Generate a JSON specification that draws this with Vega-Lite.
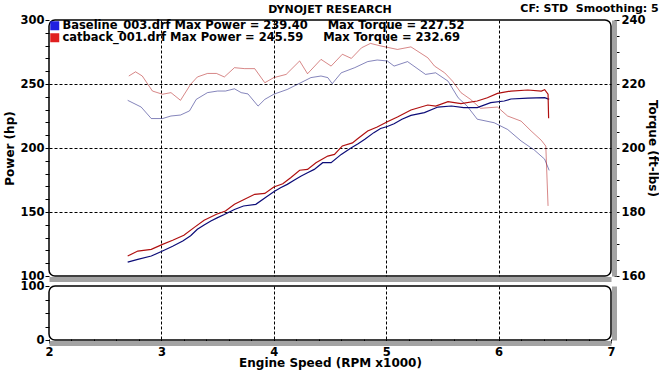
{
  "$schema": "https://vega.github.io/schema/vega-lite/v6.json",
  "background": "white",
  "padding": {"left": 3, "top": 3, "right": 1, "bottom": 0},
  "title": {"text": "CF: STD\u00a0 Smoothing: 5", "anchor": "end", "frame": "bounds", "fontSize": 11, "fontWeight": "bold", "font": "DejaVu Sans", "color": "black", "offset": 0, "dy": 11},
  "config": {
    "font": "DejaVu Sans",
    "view": {"stroke": "black", "strokeWidth": 1.5, "cornerRadius": 6},
    "axis": {"labelFont": "DejaVu Sans", "labelFontWeight": "bold", "labelFontSize": 11.5, "labelColor": "black", "labelOverlap": false, "titleFont": "DejaVu Sans", "titleFontWeight": "bold", "titleFontSize": 12, "titleColor": "black", "tickColor": "black", "gridColor": "black", "gridDash": [3, 2], "gridWidth": 1},
    "legend": {"labelFont": "DejaVu Sans", "labelFontWeight": "bold", "labelFontSize": 11.5, "labelColor": "black", "labelLimit": 600, "labelOffset": 2, "rowPadding": -2, "padding": 0, "symbolType": "square", "symbolSize": 81, "symbolStrokeWidth": 0, "symbolOpacity": 1},
    "title": {"font": "DejaVu Sans", "fontWeight": "bold", "color": "black"}
  },
  "datasets": {
    "runs": [
      {"label": "Baseline_003.drf Max Power = 239.40\u00a0\u00a0\u00a0\u00a0\u00a0Max Torque = 227.52"},
      {"label": "catback_001.drf Max Power = 245.59\u00a0\u00a0\u00a0\u00a0\u00a0Max Torque = 232.69"}
    ],
    "power": [
      {"run": "Baseline_003.drf", "rpm": 2.70, "hp": 110.9},
      {"run": "Baseline_003.drf", "rpm": 2.79, "hp": 113.0},
      {"run": "Baseline_003.drf", "rpm": 2.91, "hp": 115.6},
      {"run": "Baseline_003.drf", "rpm": 3.01, "hp": 119.5},
      {"run": "Baseline_003.drf", "rpm": 3.10, "hp": 123.2},
      {"run": "Baseline_003.drf", "rpm": 3.19, "hp": 127.3},
      {"run": "Baseline_003.drf", "rpm": 3.26, "hp": 131.5},
      {"run": "Baseline_003.drf", "rpm": 3.32, "hp": 136.5},
      {"run": "Baseline_003.drf", "rpm": 3.38, "hp": 139.8},
      {"run": "Baseline_003.drf", "rpm": 3.44, "hp": 143.0},
      {"run": "Baseline_003.drf", "rpm": 3.50, "hp": 145.6},
      {"run": "Baseline_003.drf", "rpm": 3.56, "hp": 148.0},
      {"run": "Baseline_003.drf", "rpm": 3.65, "hp": 152.0},
      {"run": "Baseline_003.drf", "rpm": 3.73, "hp": 154.7},
      {"run": "Baseline_003.drf", "rpm": 3.84, "hp": 156.0},
      {"run": "Baseline_003.drf", "rpm": 3.92, "hp": 161.0},
      {"run": "Baseline_003.drf", "rpm": 4.00, "hp": 165.9},
      {"run": "Baseline_003.drf", "rpm": 4.06, "hp": 169.0},
      {"run": "Baseline_003.drf", "rpm": 4.12, "hp": 171.6},
      {"run": "Baseline_003.drf", "rpm": 4.18, "hp": 174.8},
      {"run": "Baseline_003.drf", "rpm": 4.24, "hp": 178.0},
      {"run": "Baseline_003.drf", "rpm": 4.30, "hp": 180.7},
      {"run": "Baseline_003.drf", "rpm": 4.36, "hp": 183.3},
      {"run": "Baseline_003.drf", "rpm": 4.435, "hp": 188.5},
      {"run": "Baseline_003.drf", "rpm": 4.51, "hp": 188.5},
      {"run": "Baseline_003.drf", "rpm": 4.60, "hp": 195.0},
      {"run": "Baseline_003.drf", "rpm": 4.69, "hp": 200.2},
      {"run": "Baseline_003.drf", "rpm": 4.75, "hp": 203.4},
      {"run": "Baseline_003.drf", "rpm": 4.81, "hp": 206.8},
      {"run": "Baseline_003.drf", "rpm": 4.89, "hp": 212.0},
      {"run": "Baseline_003.drf", "rpm": 4.95, "hp": 215.2},
      {"run": "Baseline_003.drf", "rpm": 5.01, "hp": 216.8},
      {"run": "Baseline_003.drf", "rpm": 5.07, "hp": 219.0},
      {"run": "Baseline_003.drf", "rpm": 5.14, "hp": 222.5},
      {"run": "Baseline_003.drf", "rpm": 5.22, "hp": 225.5},
      {"run": "Baseline_003.drf", "rpm": 5.34, "hp": 227.6},
      {"run": "Baseline_003.drf", "rpm": 5.46, "hp": 232.0},
      {"run": "Baseline_003.drf", "rpm": 5.58, "hp": 232.8},
      {"run": "Baseline_003.drf", "rpm": 5.69, "hp": 231.5},
      {"run": "Baseline_003.drf", "rpm": 5.81, "hp": 231.5},
      {"run": "Baseline_003.drf", "rpm": 5.93, "hp": 235.4},
      {"run": "Baseline_003.drf", "rpm": 6.05, "hp": 236.7},
      {"run": "Baseline_003.drf", "rpm": 6.11, "hp": 238.3},
      {"run": "Baseline_003.drf", "rpm": 6.26, "hp": 239.0},
      {"run": "Baseline_003.drf", "rpm": 6.41, "hp": 239.4},
      {"run": "Baseline_003.drf", "rpm": 6.45, "hp": 238.0},
      {"run": "catback_001.drf", "rpm": 2.70, "hp": 115.6},
      {"run": "catback_001.drf", "rpm": 2.79, "hp": 119.5},
      {"run": "catback_001.drf", "rpm": 2.91, "hp": 120.8},
      {"run": "catback_001.drf", "rpm": 3.01, "hp": 124.7},
      {"run": "catback_001.drf", "rpm": 3.10, "hp": 127.9},
      {"run": "catback_001.drf", "rpm": 3.20, "hp": 131.8},
      {"run": "catback_001.drf", "rpm": 3.29, "hp": 137.8},
      {"run": "catback_001.drf", "rpm": 3.38, "hp": 143.5},
      {"run": "catback_001.drf", "rpm": 3.49, "hp": 148.2},
      {"run": "catback_001.drf", "rpm": 3.57, "hp": 150.8},
      {"run": "catback_001.drf", "rpm": 3.65, "hp": 156.0},
      {"run": "catback_001.drf", "rpm": 3.74, "hp": 159.9},
      {"run": "catback_001.drf", "rpm": 3.83, "hp": 163.8},
      {"run": "catback_001.drf", "rpm": 3.92, "hp": 164.5},
      {"run": "catback_001.drf", "rpm": 4.00, "hp": 169.5},
      {"run": "catback_001.drf", "rpm": 4.08, "hp": 172.1},
      {"run": "catback_001.drf", "rpm": 4.15, "hp": 176.8},
      {"run": "catback_001.drf", "rpm": 4.23, "hp": 182.6},
      {"run": "catback_001.drf", "rpm": 4.30, "hp": 183.3},
      {"run": "catback_001.drf", "rpm": 4.375, "hp": 188.5},
      {"run": "catback_001.drf", "rpm": 4.48, "hp": 193.7},
      {"run": "catback_001.drf", "rpm": 4.54, "hp": 195.0},
      {"run": "catback_001.drf", "rpm": 4.61, "hp": 201.6},
      {"run": "catback_001.drf", "rpm": 4.70, "hp": 204.0},
      {"run": "catback_001.drf", "rpm": 4.74, "hp": 206.8},
      {"run": "catback_001.drf", "rpm": 4.835, "hp": 213.3},
      {"run": "catback_001.drf", "rpm": 4.92, "hp": 216.4},
      {"run": "catback_001.drf", "rpm": 5.01, "hp": 220.5},
      {"run": "catback_001.drf", "rpm": 5.10, "hp": 224.2},
      {"run": "catback_001.drf", "rpm": 5.22, "hp": 229.7},
      {"run": "catback_001.drf", "rpm": 5.37, "hp": 233.6},
      {"run": "catback_001.drf", "rpm": 5.44, "hp": 232.8},
      {"run": "catback_001.drf", "rpm": 5.55, "hp": 236.2},
      {"run": "catback_001.drf", "rpm": 5.665, "hp": 234.6},
      {"run": "catback_001.drf", "rpm": 5.81, "hp": 236.7},
      {"run": "catback_001.drf", "rpm": 5.90, "hp": 239.3},
      {"run": "catback_001.drf", "rpm": 5.99, "hp": 242.7},
      {"run": "catback_001.drf", "rpm": 6.11, "hp": 244.5},
      {"run": "catback_001.drf", "rpm": 6.26, "hp": 245.3},
      {"run": "catback_001.drf", "rpm": 6.38, "hp": 244.5},
      {"run": "catback_001.drf", "rpm": 6.41, "hp": 245.59},
      {"run": "catback_001.drf", "rpm": 6.44, "hp": 242.0},
      {"run": "catback_001.drf", "rpm": 6.445, "hp": 223.2}
    ],
    "torque": [
      {"run": "Baseline_003.drf", "rpm": 2.70, "tq": 214.9},
      {"run": "Baseline_003.drf", "rpm": 2.82, "tq": 212.8},
      {"run": "Baseline_003.drf", "rpm": 2.91, "tq": 209.2},
      {"run": "Baseline_003.drf", "rpm": 3.01, "tq": 209.2},
      {"run": "Baseline_003.drf", "rpm": 3.085, "tq": 210.0},
      {"run": "Baseline_003.drf", "rpm": 3.17, "tq": 210.3},
      {"run": "Baseline_003.drf", "rpm": 3.25, "tq": 211.6},
      {"run": "Baseline_003.drf", "rpm": 3.31, "tq": 215.2},
      {"run": "Baseline_003.drf", "rpm": 3.41, "tq": 217.3},
      {"run": "Baseline_003.drf", "rpm": 3.50, "tq": 217.8},
      {"run": "Baseline_003.drf", "rpm": 3.57, "tq": 217.8},
      {"run": "Baseline_003.drf", "rpm": 3.65, "tq": 218.5},
      {"run": "Baseline_003.drf", "rpm": 3.71, "tq": 217.3},
      {"run": "Baseline_003.drf", "rpm": 3.77, "tq": 216.9},
      {"run": "Baseline_003.drf", "rpm": 3.86, "tq": 213.1},
      {"run": "Baseline_003.drf", "rpm": 3.92, "tq": 215.2},
      {"run": "Baseline_003.drf", "rpm": 4.00, "tq": 216.8},
      {"run": "Baseline_003.drf", "rpm": 4.12, "tq": 218.3},
      {"run": "Baseline_003.drf", "rpm": 4.24, "tq": 220.4},
      {"run": "Baseline_003.drf", "rpm": 4.33, "tq": 222.0},
      {"run": "Baseline_003.drf", "rpm": 4.42, "tq": 222.5},
      {"run": "Baseline_003.drf", "rpm": 4.48, "tq": 222.0},
      {"run": "Baseline_003.drf", "rpm": 4.52, "tq": 220.1},
      {"run": "Baseline_003.drf", "rpm": 4.60, "tq": 223.5},
      {"run": "Baseline_003.drf", "rpm": 4.72, "tq": 225.1},
      {"run": "Baseline_003.drf", "rpm": 4.835, "tq": 227.0},
      {"run": "Baseline_003.drf", "rpm": 4.92, "tq": 227.5},
      {"run": "Baseline_003.drf", "rpm": 5.01, "tq": 227.2},
      {"run": "Baseline_003.drf", "rpm": 5.07, "tq": 225.6},
      {"run": "Baseline_003.drf", "rpm": 5.19, "tq": 227.0},
      {"run": "Baseline_003.drf", "rpm": 5.35, "tq": 223.0},
      {"run": "Baseline_003.drf", "rpm": 5.44, "tq": 223.5},
      {"run": "Baseline_003.drf", "rpm": 5.55, "tq": 220.9},
      {"run": "Baseline_003.drf", "rpm": 5.64, "tq": 215.7},
      {"run": "Baseline_003.drf", "rpm": 5.72, "tq": 213.1},
      {"run": "Baseline_003.drf", "rpm": 5.81, "tq": 209.0},
      {"run": "Baseline_003.drf", "rpm": 5.96, "tq": 207.9},
      {"run": "Baseline_003.drf", "rpm": 6.08, "tq": 205.8},
      {"run": "Baseline_003.drf", "rpm": 6.20, "tq": 202.2},
      {"run": "Baseline_003.drf", "rpm": 6.32, "tq": 199.3},
      {"run": "Baseline_003.drf", "rpm": 6.41, "tq": 196.5},
      {"run": "Baseline_003.drf", "rpm": 6.45, "tq": 193.0},
      {"run": "catback_001.drf", "rpm": 2.71, "tq": 222.5},
      {"run": "catback_001.drf", "rpm": 2.77, "tq": 223.8},
      {"run": "catback_001.drf", "rpm": 2.83, "tq": 222.5},
      {"run": "catback_001.drf", "rpm": 2.92, "tq": 217.8},
      {"run": "catback_001.drf", "rpm": 3.01, "tq": 216.8},
      {"run": "catback_001.drf", "rpm": 3.085, "tq": 217.3},
      {"run": "catback_001.drf", "rpm": 3.17, "tq": 214.9},
      {"run": "catback_001.drf", "rpm": 3.26, "tq": 219.9},
      {"run": "catback_001.drf", "rpm": 3.32, "tq": 222.2},
      {"run": "catback_001.drf", "rpm": 3.41, "tq": 223.3},
      {"run": "catback_001.drf", "rpm": 3.49, "tq": 223.3},
      {"run": "catback_001.drf", "rpm": 3.56, "tq": 222.2},
      {"run": "catback_001.drf", "rpm": 3.65, "tq": 225.1},
      {"run": "catback_001.drf", "rpm": 3.74, "tq": 224.8},
      {"run": "catback_001.drf", "rpm": 3.83, "tq": 224.8},
      {"run": "catback_001.drf", "rpm": 3.92, "tq": 220.4},
      {"run": "catback_001.drf", "rpm": 4.00, "tq": 222.0},
      {"run": "catback_001.drf", "rpm": 4.11, "tq": 223.0},
      {"run": "catback_001.drf", "rpm": 4.23, "tq": 227.2},
      {"run": "catback_001.drf", "rpm": 4.30, "tq": 223.2},
      {"run": "catback_001.drf", "rpm": 4.42, "tq": 227.7},
      {"run": "catback_001.drf", "rpm": 4.51, "tq": 225.6},
      {"run": "catback_001.drf", "rpm": 4.61, "tq": 229.3},
      {"run": "catback_001.drf", "rpm": 4.69, "tq": 228.0},
      {"run": "catback_001.drf", "rpm": 4.78, "tq": 231.3},
      {"run": "catback_001.drf", "rpm": 4.86, "tq": 232.69},
      {"run": "catback_001.drf", "rpm": 4.95, "tq": 231.9},
      {"run": "catback_001.drf", "rpm": 5.10, "tq": 230.8},
      {"run": "catback_001.drf", "rpm": 5.22, "tq": 231.6},
      {"run": "catback_001.drf", "rpm": 5.37, "tq": 228.2},
      {"run": "catback_001.drf", "rpm": 5.43, "tq": 225.6},
      {"run": "catback_001.drf", "rpm": 5.52, "tq": 223.5},
      {"run": "catback_001.drf", "rpm": 5.59, "tq": 220.9},
      {"run": "catback_001.drf", "rpm": 5.665, "tq": 217.3},
      {"run": "catback_001.drf", "rpm": 5.75, "tq": 215.2},
      {"run": "catback_001.drf", "rpm": 5.84, "tq": 212.4},
      {"run": "catback_001.drf", "rpm": 5.99, "tq": 212.8},
      {"run": "catback_001.drf", "rpm": 6.08, "tq": 210.0},
      {"run": "catback_001.drf", "rpm": 6.20, "tq": 208.4},
      {"run": "catback_001.drf", "rpm": 6.29, "tq": 205.3},
      {"run": "catback_001.drf", "rpm": 6.38, "tq": 202.4},
      {"run": "catback_001.drf", "rpm": 6.42, "tq": 200.6},
      {"run": "catback_001.drf", "rpm": 6.44, "tq": 181.9}
    ]
  },
  "spacing": 10,
  "bounds": "flush",
  "vconcat": [
    {
      "width": 562,
      "height": 256,
      "title": {"text": "DYNOJET RESEARCH", "anchor": "middle", "fontSize": 11, "fontWeight": "bold", "offset": -1},
      "layer": [
        {
          "data": {"name": "torque"},
          "mark": {"type": "line", "strokeWidth": 1, "opacity": 0.5},
          "encoding": {
            "x": {"field": "rpm", "type": "quantitative", "scale": {"domain": [2, 7]},
              "axis": {"values": [2, 3, 4, 5, 6, 7], "labels": false, "ticks": false, "title": null, "grid": true,
                "gridOpacity": {"condition": {"test": "datum.value > 2.5 && datum.value < 6.5", "value": 1}, "value": 0},
                "domainColor": "#a3a3a3", "domainWidth": 5, "offset": 3}},
            "y": {"field": "tq", "type": "quantitative", "scale": {"domain": [160, 240]},
              "axis": {"orient": "right", "title": "Torque (ft-lbs)", "values": [160, 165, 170, 175, 180, 185, 190, 195, 200, 205, 210, 215, 220, 225, 230, 235, 240],
                "labelExpr": "datum.value % 20 === 0 ? datum.label : ''", "labelOverlap": false, "grid": false,
                "domainColor": "#a3a3a3", "domainWidth": 5, "offset": 3, "tickSize": 5, "labelPadding": 2, "titlePadding": 0}},
            "color": {"field": "run", "type": "nominal", "scale": {"domain": ["Baseline_003.drf", "catback_001.drf"], "range": ["#0c0c78", "#b01010"]}, "legend": null}
          }
        },
        {
          "data": {"name": "power"},
          "mark": {"type": "line", "strokeWidth": 1.2},
          "encoding": {
            "x": {"field": "rpm", "type": "quantitative"},
            "y": {"field": "hp", "type": "quantitative", "scale": {"domain": [100, 300]},
              "axis": {"orient": "left", "title": "Power (hp)", "values": [100, 110, 120, 130, 140, 150, 160, 170, 180, 190, 200, 210, 220, 230, 240, 250, 260, 270, 280, 290, 300],
                "labelExpr": "datum.value % 50 === 0 ? datum.label : ''", "labelOverlap": false, "grid": true,
                "gridOpacity": {"condition": {"test": "datum.value % 50 === 0 && datum.value > 100 && datum.value < 300", "value": 1}, "value": 0},
                "domain": false, "tickSize": 4, "labelPadding": 1, "titlePadding": 3}},
            "color": {"field": "run", "type": "nominal", "legend": null}
          }
        },
        {
          "data": {"name": "runs"},
          "mark": {"type": "square", "size": 0, "opacity": 1},
          "encoding": {
            "fill": {"field": "label", "type": "nominal", "scale": {"range": ["#2020e0", "#e02020"]},
              "legend": {"title": null, "orient": "top-left", "offset": 0, "symbolType": "square", "symbolSize": 81}}
          }
        }
      ],
      "resolve": {"scale": {"y": "independent"}}
    },
    {
      "width": 562,
      "height": 54,
      "data": {"name": "power"},
      "encoding": {
        "x": {"field": "rpm", "type": "quantitative", "scale": {"domain": [2, 7]},
          "axis": {"values": [2, 2.2, 2.4, 2.6, 2.8, 3, 3.2, 3.4, 3.6, 3.8, 4, 4.2, 4.4, 4.6, 4.8, 5, 5.2, 5.4, 5.6, 5.8, 6, 6.2, 6.4, 6.6, 6.8, 7],
            "labelExpr": "abs(datum.value - round(datum.value)) < 0.01 ? format(datum.value, 'd') : ''",
            "labelOverlap": false, "labelFlush": false, "title": "Engine Speed (RPM x1000)", "grid": true,
            "gridOpacity": {"condition": {"test": "abs(datum.value - round(datum.value)) < 0.01 && datum.value > 2.5 && datum.value < 6.5", "value": 1}, "value": 0},
            "domainColor": "#a3a3a3", "domainWidth": 5, "offset": 3, "tickSize": -4, "labelPadding": 7, "titlePadding": 0}}
      },
      "layer": [
        {
          "mark": {"type": "point", "opacity": 0},
          "encoding": {
            "y": {"datum": 0, "type": "quantitative", "scale": {"domain": [0, 100]},
              "axis": {"orient": "left", "title": null, "values": [0, 25, 50, 75, 100], "labelExpr": "datum.value % 100 === 0 ? datum.label : ''", "labelOverlap": false, "grid": false, "domain": false, "tickSize": 4, "labelPadding": 1}}
          }
        },
        {
          "mark": {"type": "point", "opacity": 0},
          "encoding": {
            "y": {"datum": 0, "type": "quantitative", "scale": {"domain": [0, 100]},
              "axis": {"orient": "right", "title": null, "labels": false, "ticks": false, "grid": false, "domainColor": "#a3a3a3", "domainWidth": 5, "offset": 3}}
          }
        }
      ],
      "resolve": {"scale": {"y": "independent"}}
    }
  ]
}
